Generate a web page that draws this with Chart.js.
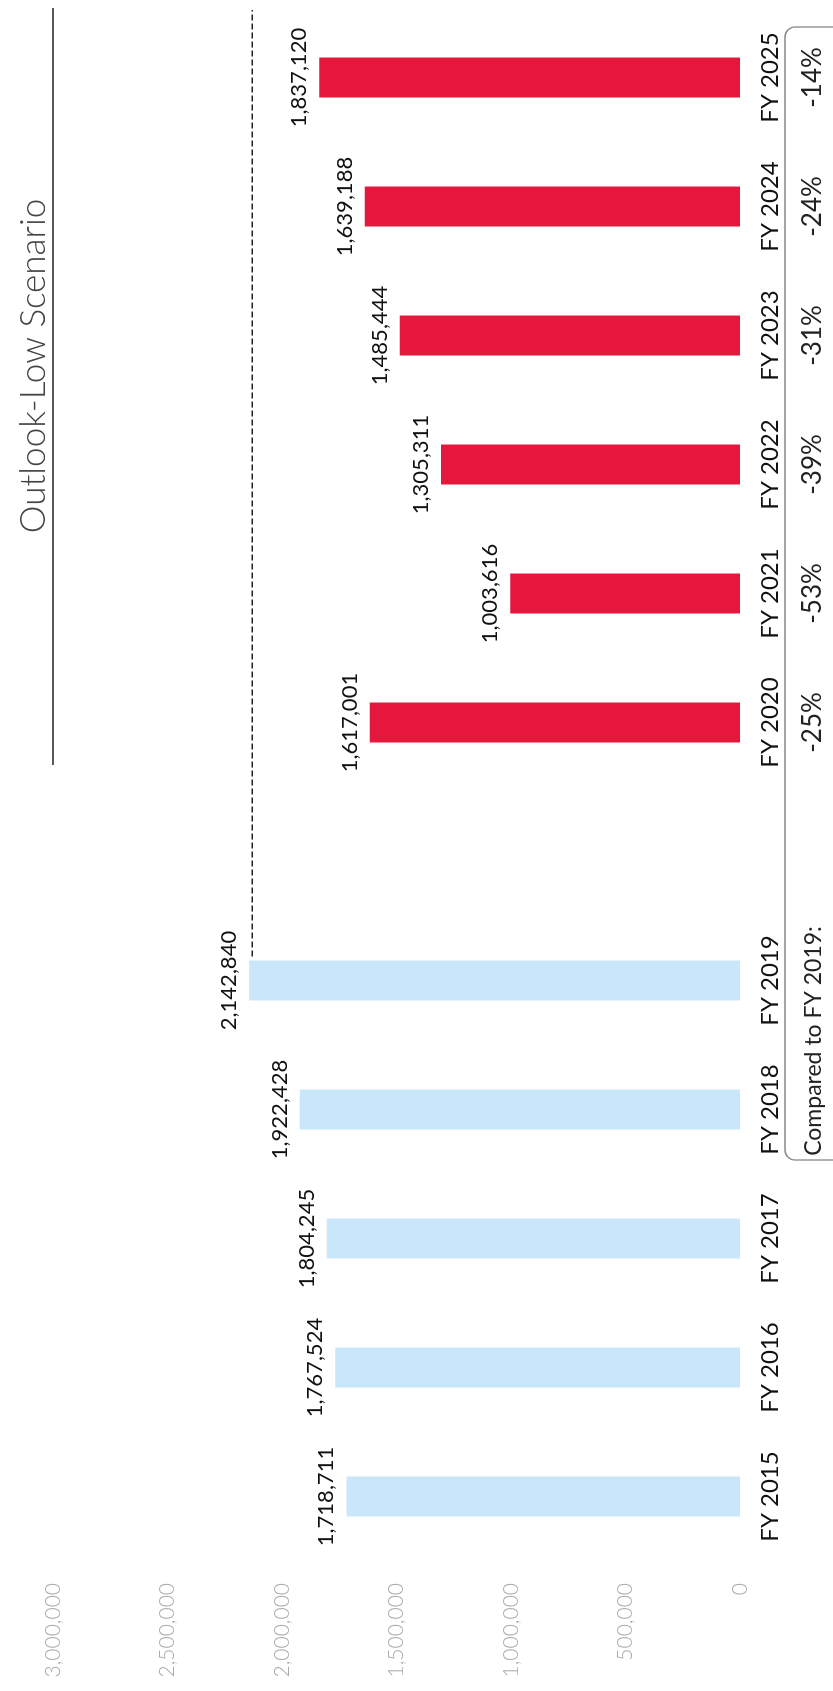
<!DOCTYPE html>
<html>
<head>
<meta charset="utf-8">
<script src="https://cdn.jsdelivr.net/npm/chart.js"></script>
<style>
  html, body { margin: 0; padding: 0; background: #fff; overflow: hidden; }
  #page { position: relative; width: 833px; height: 1691px; overflow: hidden; background: #fff; }
  #c { position: absolute; left: 0; top: 0; transform-origin: 0 0; transform: translate(0px, 1691px) rotate(-90deg); }
</style>
</head>
<body>
<div id="page"><canvas id="c" width="1691" height="833"></canvas></div>
<script>
// ---- data ----
const categories = ['FY 2015', 'FY 2016', 'FY 2017', 'FY 2018', 'FY 2019', '', 'FY 2020', 'FY 2021', 'FY 2022', 'FY 2023', 'FY 2024', 'FY 2025'];
const actualValues = [1718711, 1767524, 1804245, 1922428, 2142840, null, null, null, null, null, null, null];
const outlookValues = [null, null, null, null, null, null, 1617001, 1003616, 1305311, 1485444, 1639188, 1837120];
const compareLabels = [null, null, null, null, null, null, '-25%', '-53%', '-39%', '-31%', '-24%', '-14%'];
const valueAxisMax = 3000000;
const valueAxisStep = 500000;
const titleText = 'Outlook-Low Scenario';
const compareText = 'Compared to FY 2019:';
const referenceIndex = 4; // FY 2019

const FONT = 'Lato, "Open Sans", sans-serif';

const annotations = {
  id: 'annotations',
  afterDatasetsDraw(chart) {
    const ctx = chart.ctx;
    const ys = chart.scales.y;
    const area = chart.chartArea;
    ctx.save();

    // value labels above bars
    ctx.font = '22px ' + FONT;
    ctx.fillStyle = '#111';
    ctx.textAlign = 'center';
    ctx.textBaseline = 'alphabetic';
    chart.data.datasets.forEach((ds, di) => {
      const meta = chart.getDatasetMeta(di);
      meta.data.forEach((bar, i) => {
        const v = ds.data[i];
        if (v == null) return;
        ctx.fillText(v.toLocaleString('en-US'), bar.x, bar.y - 13);
      });
    });

    // dashed reference line at FY 2019 level
    const refBar = chart.getDatasetMeta(0).data[referenceIndex];
    const yRef = ys.getPixelForValue(actualValues[referenceIndex]) + 3;
    ctx.setLineDash([6, 3]);
    ctx.lineWidth = 1.5;
    ctx.strokeStyle = '#222';
    ctx.beginPath();
    ctx.moveTo(refBar.x + refBar.width / 2 + 4, yRef);
    ctx.lineTo(area.right + 3, yRef);
    ctx.stroke();
    ctx.setLineDash([]);

    // title with underline
    ctx.font = '300 35px ' + FONT;
    ctx.fillStyle = '#444';
    ctx.textAlign = 'center';
    ctx.textBaseline = 'alphabetic';
    ctx.fillText(titleText, 1325, 45);
    ctx.lineWidth = 1.6;
    ctx.strokeStyle = '#222';
    ctx.beginPath();
    ctx.moveTo(926, 53);
    ctx.lineTo(1683, 53);
    ctx.stroke();

    // comparison box
    ctx.lineWidth = 1.3;
    ctx.strokeStyle = '#888';
    ctx.beginPath();
    if (ctx.roundRect) { ctx.roundRect(531, 785, 1664 - 531, 120, 10); } else { ctx.rect(531, 785, 1664 - 531, 120); }
    ctx.stroke();

    ctx.fillStyle = '#222';
    ctx.font = '23px ' + FONT;
    ctx.textAlign = 'center';
    ctx.fillText(compareText, 650, 821);

    ctx.font = '26px ' + FONT;
    const outMeta = chart.getDatasetMeta(1);
    compareLabels.forEach((t, i) => {
      if (!t) return;
      ctx.fillText(t, outMeta.data[i].x, 821);
    });

    ctx.restore();
  }
};

new Chart(document.getElementById('c'), {
  type: 'bar',
  data: {
    labels: categories,
    datasets: [
      { label: 'Actual', data: actualValues, backgroundColor: '#C9E6FA', grouped: false,
        categoryPercentage: 1.0, barPercentage: 0.31 },
      { label: 'Outlook - Low', data: outlookValues, backgroundColor: '#E5173D', grouped: false,
        categoryPercentage: 1.0, barPercentage: 0.31 }
    ]
  },
  options: {
    responsive: false,
    animation: false,
    devicePixelRatio: 1,
    layout: { padding: { top: 53, right: 13, left: 0, bottom: 0 } },
    plugins: { legend: { display: false }, tooltip: { enabled: false }, title: { display: false } },
    scales: {
      x: {
        grid: { display: false, drawTicks: false },
        border: { display: false },
        ticks: { color: '#111', font: { family: FONT, size: 24 }, padding: 16, autoSkip: false, maxRotation: 0, minRotation: 0 },
        afterFit(scale) { scale.height = 93; }
      },
      y: {
        min: 0,
        max: valueAxisMax,
        grid: { display: false, drawTicks: false },
        border: { display: false },
        ticks: { stepSize: valueAxisStep, color: '#aaa', font: { family: FONT, size: 21, weight: '300' }, padding: 22,
          callback: (v) => Number(v).toLocaleString('en-US') },
        afterFit(scale) { scale.width = 130; }
      }
    }
  },
  plugins: [annotations]
});
</script>
</body>
</html>
